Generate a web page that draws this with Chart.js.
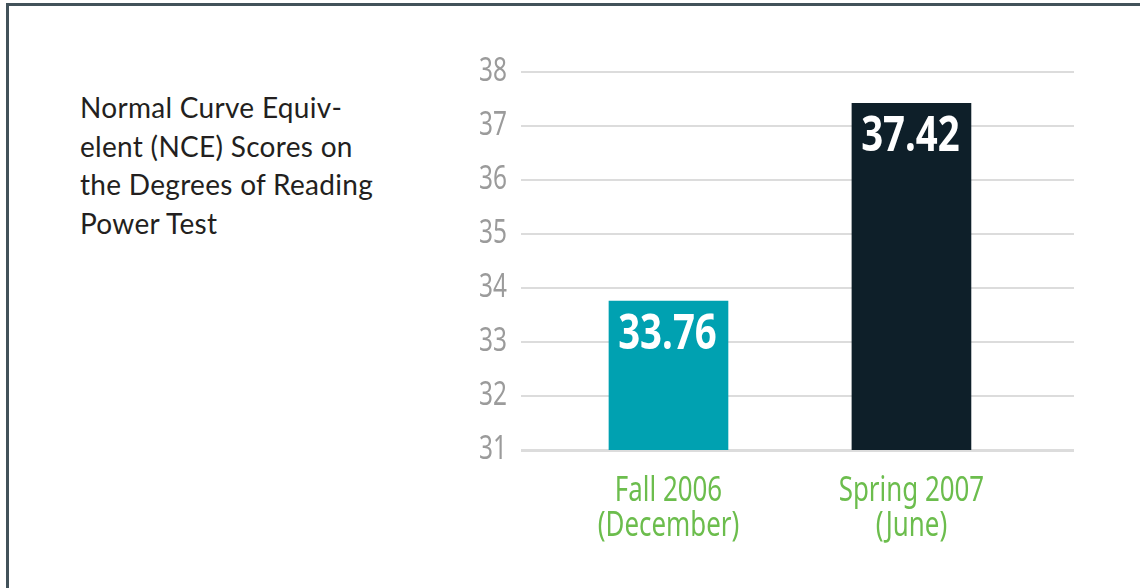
<!DOCTYPE html>
<html>
<head>
<meta charset="utf-8">
<script src="https://cdn.jsdelivr.net/npm/chart.js@4.4.1/dist/chart.umd.min.js"></script>
<style>
  html, body { margin: 0; padding: 0; background: #fff; }
  #wrap { position: relative; width: 1140px; height: 588px; overflow: hidden; }
  #frame {
    position: absolute; left: 6px; top: 3px; right: -10px; bottom: -10px;
    border-top: 3px solid #42525a; border-left: 3px solid #42525a;
  }
  #note {
    position: absolute; left: 80px; top: 88px;
    font: 28px Lato, "Open Sans", sans-serif; letter-spacing: 0.3px;
    line-height: 38.5px; color: #231f20;
  }
  canvas { position: absolute; left: 0; top: 0; }
</style>
</head>
<body>
<div id="wrap">
  <div id="frame"></div>
  <div id="note">Normal Curve Equiv-<br>elent (NCE) Scores on<br>the Degrees of Reading<br>Power Test</div>
  <canvas id="nceChart" width="1140" height="588"></canvas>
</div>
<script>
const categories = [["Fall 2006", "(December)"], ["Spring 2007", "(June)"]];
const scores = [33.76, 37.42];
const barColors = ["#00a1b1", "#0e1f29"];
const yMin = 31;
const yMax = 38;

const fontFamily = '"Noto Sans", "DejaVu Sans", sans-serif';
const squeeze = 0.74; // no condensed font installed, so squeeze text horizontally

// makes every label the chart draws look condensed
const condensedText = {
  id: "condensedText",
  beforeInit(chart) {
    const ctx = chart.ctx;
    const raw = ctx.fillText.bind(ctx);
    ctx.rawFillText = raw;
    ctx.fillText = (text, x, y, maxWidth) => {
      ctx.save();
      ctx.translate(x, y);
      ctx.scale(squeeze, 1);
      raw(text, 0, 0);
      ctx.restore();
    };
  },
};

// white value labels inside the top of each bar
const valueLabels = {
  id: "valueLabels",
  afterDatasetsDraw(chart) {
    const ctx = chart.ctx;
    const meta = chart.getDatasetMeta(0);
    ctx.save();
    ctx.fillStyle = "#fff";
    ctx.font = "bold 48px " + fontFamily;
    ctx.textAlign = "center";
    ctx.textBaseline = "alphabetic";
    meta.data.forEach((bar, i) => {
      ctx.save();
      ctx.translate(bar.x - 1, bar.y + 48);
      ctx.scale(0.8, 1);
      ctx.rawFillText(scores[i].toFixed(2), 0, 0);
      ctx.restore();
    });
    ctx.restore();
  },
};

new Chart(document.getElementById("nceChart"), {
  type: "bar",
  data: {
    datasets: [
      {
        data: scores.map((v, i) => ({ x: i, y: v })),
        backgroundColor: barColors,
        barThickness: 119,
        borderWidth: 0,
      },
    ],
  },
  options: {
    responsive: false,
    animation: false,
    layout: { padding: { left: 440, right: 66, top: 72, bottom: 0 } },
    plugins: { legend: { display: false }, tooltip: { enabled: false } },
    scales: {
      x: {
        type: "linear",
        offset: false,
        min: -0.607,
        max: 1.669,
        afterBuildTicks: (scale) => {
          scale.ticks = categories.map((_, i) => ({ value: i }));
        },
        afterFit: (scale) => { scale.height = 138; },
        grid: { display: false, drawTicks: false },
        border: { display: false },
        ticks: {
          callback: (v) => categories[v],
          color: "#6cbd4d",
          font: { family: fontFamily, size: 35, lineHeight: 1.0 },
          padding: 24,
          maxRotation: 0,
          autoSkip: false,
        },
      },
      y: {
        min: yMin,
        max: yMax,
        afterFit: (scale) => { scale.width = 81; },
        grid: {
          color: "#dcdcdc",
          lineWidth: (c) => (c.tick && c.tick.value === yMin ? 3 : 2),
          drawTicks: false,
        },
        border: { display: false },
        ticks: {
          stepSize: 1,
          color: "#9b9b9b",
          font: { family: fontFamily, size: 33 },
          padding: 14,
        },
      },
    },
  },
  plugins: [condensedText, valueLabels],
});
</script>
</body>
</html>
